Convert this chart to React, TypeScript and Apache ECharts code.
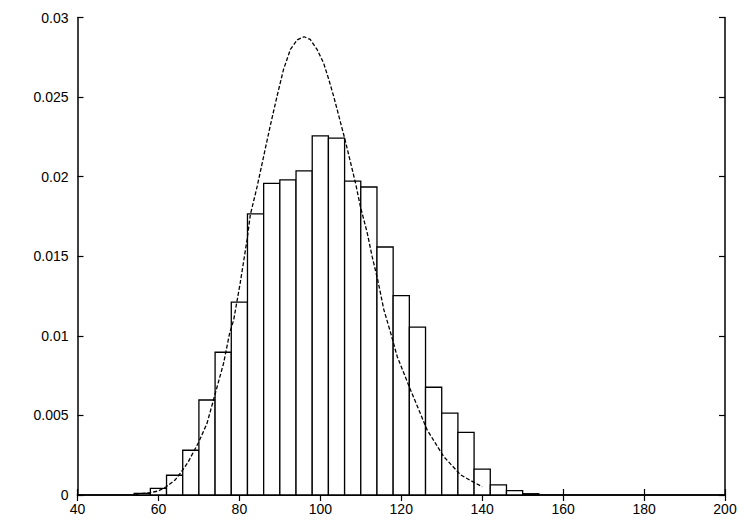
import React, { useEffect, useRef } from "react";
import * as echarts from "echarts";

// Histogram bins (left edge of each bin) and density values
const binStart = [54, 58, 62, 66, 70, 74, 78, 82, 86, 90, 94, 98, 102, 106, 110, 114, 118, 122, 126, 130, 134, 138, 142, 146, 150];
const binWidth = 4;
const density = [
  0.0001, 0.00042, 0.00124, 0.00281, 0.00597, 0.00897, 0.01212, 0.01766, 0.01958, 0.0198,
  0.02036, 0.02256, 0.02242, 0.01972, 0.01935, 0.01558, 0.01253, 0.01055, 0.00677, 0.00514,
  0.00394, 0.00162, 0.00063, 0.00027, 0.00008,
];

// Fitted curve
const curveX = [
  54.3, 57.9, 60.0, 61.9, 64.1, 66.0, 67.4, 69.9, 72.0, 73.6, 76.1, 77.6, 78.6, 80.2, 81.9, 82.7,
  84.4, 86.0, 87.6, 89.3, 90.9, 92.6, 94.3, 96.0, 97.5, 99.2, 100.8, 102.1, 103.3, 104.6, 106.1,
  107.5, 108.7, 109.9, 111.6, 112.8, 114.2, 115.7, 117.4, 119.0, 122.3, 126.4, 130.5, 134.7, 137.2, 140.0,
];
const curveY = [
  0.00004, 0.00015, 0.00025, 0.00052, 0.00094, 0.00157, 0.0021, 0.0033, 0.0045, 0.00597, 0.00828,
  0.01017, 0.011, 0.01331, 0.01604, 0.0176, 0.01939, 0.02128, 0.02316, 0.02505, 0.02673, 0.02799,
  0.0286, 0.02879, 0.02862, 0.02799, 0.02715, 0.0261, 0.02505, 0.02379, 0.02233, 0.02086, 0.0196,
  0.01813, 0.01646, 0.01499, 0.0135, 0.01164, 0.01017, 0.0087, 0.0066, 0.00409, 0.00241, 0.00126,
  0.0009, 0.00052,
];

const X_MIN = 40;
const X_MAX = 200;
const X_STEP = 20;
const Y_MIN = 0;
const Y_MAX = 0.03;
const Y_STEP = 0.005;

export default function App() {
  const ref = useRef<HTMLDivElement>(null);

  useEffect(() => {
    if (!ref.current) return;
    const chart = echarts.init(ref.current, null, { renderer: "svg" });
    const font = "'Liberation Sans', Arial, Helvetica, sans-serif";
    const axisLine = { show: true, lineStyle: { color: "#000", width: 1.5 } };
    const tick = { show: true, inside: true, length: 6, lineStyle: { color: "#000", width: 1.2 } };

    const barData = binStart.map((s, i) => [s, s + binWidth, density[i]]);
    const lineData = curveX.map((x, i) => [x, curveY[i]]);

    chart.setOption({
      animation: false,
      backgroundColor: "#fff",
      grid: { left: 77.5, right: 25, top: 17.5, bottom: 30, containLabel: false },
      xAxis: [
        {
          type: "value",
          min: X_MIN,
          max: X_MAX,
          interval: X_STEP,
          position: "bottom",
          axisLine,
          axisTick: tick,
          splitLine: { show: false },
          axisLabel: { color: "#000", fontSize: 14, fontFamily: font, margin: 7 },
        },
        {
          type: "value",
          min: X_MIN,
          max: X_MAX,
          interval: X_STEP,
          position: "top",
          axisLine,
          axisTick: tick,
          splitLine: { show: false },
          axisLabel: { show: false },
        },
      ],
      yAxis: [
        {
          type: "value",
          min: Y_MIN,
          max: Y_MAX,
          interval: Y_STEP,
          position: "left",
          axisLine,
          axisTick: tick,
          splitLine: { show: false },
          axisLabel: {
            color: "#000",
            fontSize: 14,
            fontFamily: font,
            margin: 9,
            formatter: (v: number) => String(parseFloat(v.toFixed(4))),
          },
        },
        {
          type: "value",
          min: Y_MIN,
          max: Y_MAX,
          interval: Y_STEP,
          position: "right",
          axisLine,
          axisTick: tick,
          splitLine: { show: false },
          axisLabel: { show: false },
        },
      ],
      series: [
        {
          type: "custom",
          xAxisIndex: 0,
          yAxisIndex: 0,
          data: barData,
          encode: { x: [0, 1], y: 2 },
          renderItem: (params: any, api: any) => {
            const p0 = api.coord([api.value(0), api.value(2)]);
            const p1 = api.coord([api.value(1), 0]);
            return {
              type: "rect",
              shape: { x: p0[0], y: p0[1], width: p1[0] - p0[0], height: p1[1] - p0[1] },
              style: { fill: "#fff", stroke: "#000", lineWidth: 1.3 },
            };
          },
          z: 2,
        },
        {
          type: "line",
          xAxisIndex: 0,
          yAxisIndex: 0,
          data: lineData,
          showSymbol: false,
          smooth: false,
          lineStyle: { color: "#000", width: 1.3, type: [4, 2] },
          z: 3,
        },
      ],
    });
    return () => chart.dispose();
  }, []);

  return (
    <div
      ref={ref}
      style={{ position: "fixed", left: 0, top: 0, width: 750, height: 525, background: "#fff" }}
    />
  );
}
